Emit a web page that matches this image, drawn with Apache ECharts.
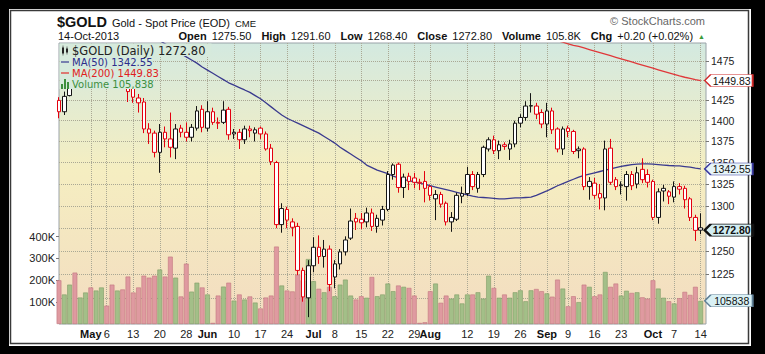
<!DOCTYPE html>
<html>
<head>
<meta charset="utf-8">
<title>$GOLD - Gold Spot Price (EOD)</title>
<script src="https://cdn.jsdelivr.net/npm/echarts@6.0.0/dist/echarts.min.js"></script>
<style>
html,body{margin:0;padding:0;background:#000;overflow:hidden;}
#chart{width:765px;height:354px;}
</style>
</head>
<body>
<div id="chart"></div>
<script>
// ---------------- DATA ----------------
const dates = [
'2013-04-23','2013-04-24','2013-04-25','2013-04-26','2013-04-29','2013-04-30','2013-05-01','2013-05-02','2013-05-03','2013-05-06',
'2013-05-07','2013-05-08','2013-05-09','2013-05-10','2013-05-13','2013-05-14','2013-05-15','2013-05-16','2013-05-17','2013-05-20',
'2013-05-21','2013-05-22','2013-05-23','2013-05-24','2013-05-28','2013-05-29','2013-05-30','2013-05-31','2013-06-03','2013-06-04',
'2013-06-05','2013-06-06','2013-06-07','2013-06-10','2013-06-11','2013-06-12','2013-06-13','2013-06-14','2013-06-17','2013-06-18',
'2013-06-19','2013-06-20','2013-06-21','2013-06-24','2013-06-25','2013-06-26','2013-06-27','2013-06-28','2013-07-01','2013-07-02',
'2013-07-03','2013-07-05','2013-07-08','2013-07-09','2013-07-10','2013-07-11','2013-07-12','2013-07-15','2013-07-16','2013-07-17',
'2013-07-18','2013-07-19','2013-07-22','2013-07-23','2013-07-24','2013-07-25','2013-07-26','2013-07-29','2013-07-30','2013-07-31',
'2013-08-01','2013-08-02','2013-08-05','2013-08-06','2013-08-07','2013-08-08','2013-08-09','2013-08-12','2013-08-13','2013-08-14',
'2013-08-15','2013-08-16','2013-08-19','2013-08-20','2013-08-21','2013-08-22','2013-08-23','2013-08-26','2013-08-27','2013-08-28',
'2013-08-29','2013-08-30','2013-09-03','2013-09-04','2013-09-05','2013-09-06','2013-09-09','2013-09-10','2013-09-11','2013-09-12',
'2013-09-13','2013-09-16','2013-09-17','2013-09-18','2013-09-19','2013-09-20','2013-09-23','2013-09-24','2013-09-25','2013-09-26',
'2013-09-27','2013-09-30','2013-10-01','2013-10-02','2013-10-03','2013-10-04','2013-10-07','2013-10-08','2013-10-09','2013-10-10',
'2013-10-11','2013-10-14'
];
const opens = [
1425,1411,1431,1464,1462,1467,1472,1446,1467,1470,
1468,1451,1473,1468,1440,1428,1423,1390,1385,1362,
1386,1378,1367,1391,1386,1380,1391,1414,1391,1411,
1398,1398,1414,1384,1386,1377,1390,1385,1391,1384,
1367,1350,1279,1296,1282,1277,1229,1200,1234,1254,
1244,1252,1222,1236,1249,1264,1286,1285,1282,1292,
1277,1284,1296,1336,1348,1321,1334,1332,1327,1328,
1322,1308,1313,1303,1282,1285,1311,1314,1336,1320,
1336,1366,1377,1364,1371,1366,1372,1397,1404,1418,
1418,1410,1396,1412,1390,1366,1391,1387,1364,1366,
1322,1326,1314,1309,1367,1330,1323,1322,1336,1325,
1342,1336,1328,1287,1320,1316,1310,1322,1320,1308,
1287,1275.5
];
const highs = [
1429,1436,1470,1474,1476,1478,1476,1470,1487,1476,
1471,1476,1478,1470,1446,1433,1428,1397,1388,1396,
1393,1410,1396,1395,1398,1396,1418,1419,1424,1416,
1404,1424,1417,1390,1390,1394,1394,1392,1393,1387,
1372,1352,1303,1299,1286,1281,1232,1240,1265,1267,
1262,1256,1240,1252,1266,1297,1292,1292,1298,1297,
1290,1300,1340,1349,1350,1337,1338,1338,1331,1340,
1324,1318,1316,1305,1293,1315,1322,1345,1340,1339,
1370,1380,1382,1376,1374,1377,1400,1408,1424,1434,
1422,1414,1422,1416,1392,1393,1394,1389,1369,1368,
1333,1332,1325,1376,1378,1333,1328,1340,1340,1345,
1355,1342,1330,1320,1324,1318,1328,1326,1323,1310,
1290,1291.6
];
const lows = [
1403,1407,1430,1440,1452,1458,1442,1444,1457,1458,
1447,1450,1459,1423,1422,1410,1385,1372,1356,1338,
1368,1356,1354,1380,1375,1375,1388,1386,1387,1395,
1390,1396,1377,1378,1366,1372,1380,1375,1378,1364,
1347,1275,1270,1275,1266,1224,1196,1180,1227,1236,
1232,1207,1210,1230,1245,1262,1273,1274,1276,1272,
1270,1278,1294,1330,1315,1309,1318,1320,1318,1304,
1306,1284,1298,1278,1271,1283,1303,1311,1318,1315,
1333,1363,1360,1354,1365,1353,1368,1392,1400,1410,
1402,1391,1380,1384,1362,1359,1380,1360,1355,1318,
1307,1308,1296,1295,1324,1318,1313,1306,1318,1320,
1326,1321,1284,1280,1305,1302,1304,1313,1297,1283,
1261,1268.4
];
const closes = [
1411,1430,1464,1462,1467,1472,1446,1467,1470,1468,
1451,1473,1469,1436,1429,1422,1390,1385,1362,1386,
1378,1368,1390,1386,1380,1392,1412,1392,1411,1398,
1397,1413,1383,1386,1377,1390,1388,1389,1384,1366,
1351,1279,1297,1284,1276,1229,1201,1234,1254,1244,
1252,1214,1236,1249,1262,1283,1282,1281,1292,1277,
1286,1296,1336,1347,1321,1333,1328,1327,1326,1320,
1312,1313,1302,1282,1287,1312,1314,1336,1322,1336,
1368,1377,1364,1371,1369,1372,1397,1404,1418,1418.5,
1408,1396,1412,1389,1366,1390,1387,1363,1366,1322,
1328,1312,1309,1366,1327,1322,1324,1336,1323,1338,
1330,1327,1287,1316,1317,1311,1322,1319,1307,1287,
1272.6,1272.8
];
const volumes = [
200000,135000,180000,235000,121000,144000,167000,153000,167000,84000,
180000,153000,158000,217000,144000,167000,221000,212000,221000,249000,
217000,308000,212000,126000,276000,148000,189000,167000,135000,5000,
130000,171000,189000,107000,135000,112000,126000,98000,71000,121000,
130000,354000,176000,153000,149000,226000,200000,297000,196000,161000,
145000,170000,127000,180000,203000,130000,112000,127000,120000,215000,
127000,135000,185000,150000,176000,170000,165000,130000,5000,8000,
150000,185000,97000,130000,116000,135000,94000,135000,135000,145000,
116000,221000,165000,120000,135000,120000,145000,154000,104000,154000,
160000,150000,140000,125000,203000,162000,81000,127000,100000,180000,
170000,127000,135000,238000,170000,185000,130000,152000,142000,145000,
122000,116000,200000,162000,120000,104000,94000,118000,147000,133000,
170000,105838
];
const ma50 = [
null,null,null,null,null,null,null,null,null,null,
null,null,null,null,null,null,null,null,1505,1501,
1497,1493,1489,1484,1480,1476,1472,1467,1463,1459,
1455,1451,1447,1444,1441,1438,1435,1431,1427,1422,
1417,1412,1407,1403,1400,1397,1394,1391,1388,1385,
1381,1377,1373,1368,1364,1360,1356,1352,1347,1344,
1341,1339,1337,1334,1332,1330,1329,1327.5,1326,1324.5,
1323,1321.5,1320,1318.5,1317,1315.5,1314,1312.5,1311,1310,
1309.5,1309,1308.5,1308,1308,1308.5,1309,1309,1309.5,1310,
1312,1314.5,1317,1320,1323,1325.5,1328,1330.5,1333,1335,
1336.5,1338,1339.5,1341,1342.5,1344,1345.5,1346.5,1347.5,1348,
1348.5,1348.5,1348,1347.5,1347,1346.5,1346.2,1346,1345.3,1344.5,
1343.5,1342.55
];
const ma200 = [
null,null,null,null,null,null,null,null,null,null,
null,null,null,null,null,null,null,null,null,null,
null,null,null,null,null,null,null,null,null,null,
null,null,null,null,null,null,null,null,null,null,
null,null,null,null,null,null,null,null,null,null,
null,null,null,null,null,null,null,null,null,null,
null,null,null,null,null,null,null,null,null,null,
null,null,null,null,null,null,null,null,null,null,
null,null,null,null,null,null,null,null,null,null,
null,null,1505,1503,1501,1499,1497,1495,1493.5,1491.5,
1489.5,1487.5,1485.5,1483.5,1481.5,1479.5,1477.5,1475.5,1473.5,1471.5,
1469.5,1467.5,1465.5,1463.5,1461.5,1459.5,1457.5,1455.7,1454,1452.5,
1451,1449.83
];
const tickDates = ['2013-05-01','2013-05-06','2013-05-13','2013-05-20','2013-05-28','2013-06-03','2013-06-10','2013-06-17','2013-06-24',
  '2013-07-01','2013-07-08','2013-07-15','2013-07-22','2013-07-29','2013-08-01','2013-08-12','2013-08-19','2013-08-26',
  '2013-09-03','2013-09-09','2013-09-16','2013-09-23','2013-10-01','2013-10-07','2013-10-14'];
const tickLabels = ['May','6','13','20','28','Jun','10','17','24','Jul','8','15','22','29','Aug','12','19','26','Sep','9','16','23','Oct','7','14'];
const priceGridTicks = [1200,1225,1250,1275,1300,1325,1350,1375,1400,1425,1450,1475];
const priceLabelTicks = [1225,1250,1300,1325,1350,1375,1400,1425,1475];
const volumeTicks = [100000,200000,300000,400000];
const priceRange = [1173, 1498];
const volumeMax = 1285000;

// ---------------- BUILD ----------------
const FONT = '"Liberation Sans", Arial, Helvetica, sans-serif';
const LFONT = '"DejaVu Sans", Verdana, sans-serif';
const lg = Math.log;
const last = dates.length - 1;
const cats = dates.concat(['']);
const tickMap = {};
tickDates.forEach((d, i) => { tickMap[d] = tickLabels[i]; });
const isTick = (i, v) => Object.prototype.hasOwnProperty.call(tickMap, v);

const upDay = closes.map((c, i) => i === 0 ? c >= opens[i] : c >= closes[i - 1]);
const RED = '#e3000f', BLK = '#151515';
const candleData = dates.map((d, i) => {
  const hue = upDay[i] ? BLK : RED;
  return { value: [lg(opens[i]), lg(closes[i]), lg(lows[i]), lg(highs[i])],
    itemStyle: { color: '#ffffff', borderColor: hue, color0: hue, borderColor0: hue } };
});
const volData = volumes.map((v, i) => ({ value: v, itemStyle: {
  color: upDay[i] ? '#a3bf88' : '#df9aa0', borderColor: upDay[i] ? '#7f9c66' : '#c27780', borderWidth: 0.6 } }));
const lineData = arr => arr.map(v => v == null ? '-' : lg(v));

const lastClose = closes[last], prevClose = closes[last - 1];
const chg = lastClose - prevClose;
const sign = chg >= 0 ? '+' : '-';
const goldName = '$GOLD (Daily) ' + lastClose.toFixed(2);
const ma50Name = 'MA(50) ' + ma50[last].toFixed(2);
const ma200Name = 'MA(200) ' + ma200[last].toFixed(2);
const volName = 'Volume ' + volumes[last].toLocaleString('en-US');

function flag(k, y, text, stroke, fill, bold, lw) {
  return {
    silent: true,
    symbol: 'path://M0,6L6,0L48,0L48,12L6,12Z',
    symbolSize: [48, 12],
    symbolKeepAspect: false,
    symbolOffset: [28, 0],
    itemStyle: { color: fill, borderColor: stroke, borderWidth: lw },
    label: { show: true, position: 'inside', offset: [3, 0], formatter: text,
      color: '#111', fontSize: 10.5, fontWeight: bold ? 'bold' : 'normal', fontFamily: FONT },
    data: [{ coord: [k, y] }]
  };
}

const candleIcon = 'path://M0.7,0h0.6v10h-0.6z M0,2h2v6h-2z M4.7,1h0.6v8h-0.6z M4,3h2v4h-2z';
const lineIcon = 'path://M0,4.4h10v1.4h-10z';
const barIcon = 'path://M0,5h2v5h-2z M3,0h2v10h-2z M6,3h2v7h-2z';
const legBg = '#d6eadc';

const ohlc = '{k|Open} {v|' + opens[last].toFixed(2) + '}  {k|High} {v|' + highs[last].toFixed(2) +
  '}  {k|Low} {v|' + lows[last].toFixed(2) + '}  {k|Close} {v|' + lastClose.toFixed(2) +
  '}  {k|Volume} {v|' + (volumes[last] / 1000).toFixed(1) + 'K}  {k|Chg} {v|' + sign + Math.abs(chg).toFixed(2) +
  ' (' + sign + Math.abs(chg / prevClose * 100).toFixed(2) + '%)} {t|▲}';

const option = {
  animation: false,
  backgroundColor: '#000000',
  textStyle: { fontFamily: FONT },
  graphic: [
    { type: 'rect', z: -20, silent: true, shape: { x: 9, y: 9, width: 742, height: 337 }, style: { fill: '#ffffff' } },
    { type: 'rect', z: -19, silent: true, shape: { x: 10.5, y: 10.5, width: 738, height: 333 }, style: { fill: 'none', stroke: '#3a3a3a', lineWidth: 1.5 } },
    { type: 'rect', z: 3, silent: true, shape: { x: 59.5, y: 43.5, width: 152, height: 12.5 }, style: { fill: legBg } },
    { type: 'rect', z: 3, silent: true, shape: { x: 59.5, y: 56, width: 93, height: 33 }, style: { fill: legBg } }
  ],
  title: [
    { left: 57, top: 11, padding: 0, text: '{a|$GOLD} {b|Gold - Spot Price (EOD)} {c|CME}',
      textStyle: { fontWeight: 'normal', rich: {
        a: { fontFamily: FONT, fontSize: 14.5, fontWeight: 'bold', color: '#111', verticalAlign: 'bottom' },
        b: { fontFamily: FONT, fontSize: 11, fontWeight: 'normal', color: '#111', verticalAlign: 'bottom', padding: [0, 0, 1, 0] },
        c: { fontFamily: FONT, fontSize: 9.5, fontWeight: 'normal', color: '#111', verticalAlign: 'bottom', padding: [0, 0, 1, 0] } } } },
    { left: 58, top: 30, padding: 0, text: '14-Oct-2013',
      textStyle: { fontFamily: FONT, fontSize: 11, fontWeight: 'normal', color: '#111', lineHeight: 12 } },
    { right: 60, top: 30, padding: 0, text: ohlc,
      textStyle: { fontWeight: 'normal', lineHeight: 12, rich: {
        k: { fontFamily: FONT, fontSize: 11, fontWeight: 'bold', color: '#111', lineHeight: 12 },
        v: { fontFamily: FONT, fontSize: 11, fontWeight: 'normal', color: '#111', lineHeight: 12 },
        t: { fontFamily: FONT, fontSize: 7, fontWeight: 'normal', color: '#3a9a3a', lineHeight: 12 } } } },
    { right: 60, top: 15, padding: 0, text: '© StockCharts.com',
      textStyle: { fontFamily: FONT, fontSize: 11, fontWeight: 'normal', color: '#666' } }
  ],
  legend: {
    orient: 'vertical', left: 61, top: 44.5, padding: 0, itemGap: 0, itemWidth: 8, itemHeight: 10,
    selectedMode: false, symbolKeepAspect: true,
    textStyle: { fontFamily: LFONT, fontSize: 10, lineHeight: 11, padding: [0, 0, 0, -2] },
    data: [
      { name: goldName, icon: candleIcon, itemStyle: { color: '#222', borderWidth: 0 }, textStyle: { color: '#222', fontSize: 11.5, lineHeight: 12 } },
      { name: ma50Name, icon: lineIcon, itemStyle: { color: '#2c2c8c', borderWidth: 0 }, textStyle: { color: '#2c2c8c' } },
      { name: ma200Name, icon: lineIcon, itemStyle: { color: '#e02020', borderWidth: 0 }, textStyle: { color: '#e02020' } },
      { name: volName, icon: barIcon, itemStyle: { color: '#3d8f3d', borderWidth: 0 }, textStyle: { color: '#3d8f3d' } }
    ]
  },
  grid: {
    left: 59, top: 43, width: 647, height: 281, show: true, borderColor: '#9aa3a8', borderWidth: 1,
    outerBoundsMode: 'none',
    backgroundColor: { type: 'linear', x: 0, y: 0, x2: 0, y2: 1, colorStops: [
      { offset: 0, color: '#d3e9e0' }, { offset: 0.45, color: '#f5eec1' }, { offset: 1, color: '#f3dcc0' } ] }
  },
  xAxis: {
    type: 'category', data: cats, boundaryGap: false,
    axisLine: { show: false }, axisTick: { show: false },
    axisLabel: { interval: isTick, hideOverlap: false, margin: 4, fontFamily: FONT, fontSize: 11, color: '#222',
      formatter: v => { const t = tickMap[v]; if (!t) return ''; return /[A-Za-z]/.test(t) ? '{m|' + t + '}' : t; },
      rich: { m: { fontFamily: FONT, fontSize: 11, fontWeight: 'bold', color: '#111' } } },
    splitLine: { show: true, interval: isTick, lineStyle: { type: 'dotted', color: '#aaa894', width: 1 } }
  },
  yAxis: [
    { type: 'value', position: 'right', min: lg(priceRange[0]), max: lg(priceRange[1]),
      axisLine: { show: false },
      axisTick: { show: true, length: 3, customValues: priceGridTicks.map(lg), lineStyle: { color: '#777' } },
      axisLabel: { customValues: priceLabelTicks.map(lg), formatter: v => String(Math.round(Math.exp(v))),
        margin: 5, fontFamily: FONT, fontSize: 10.5, color: '#222' },
      splitLine: { show: true, lineStyle: { type: 'dotted', color: '#aaa894', width: 1 } } },
    { type: 'value', position: 'left', min: 0, max: volumeMax,
      axisLine: { show: false },
      axisTick: { show: true, length: 3, customValues: volumeTicks, lineStyle: { color: '#777' } },
      axisLabel: { customValues: volumeTicks, formatter: v => (v / 1000) + 'K', margin: 4,
        fontFamily: FONT, fontSize: 11, color: '#222' },
      splitLine: { show: false } }
  ],
  series: [
    { name: volName, type: 'bar', xAxisIndex: 0, yAxisIndex: 1, z: 1, barWidth: '90%', data: volData,
      itemStyle: { color: '#a3bf88' },
      markPoint: flag(last, volumes[last], String(volumes[last]), '#5f7f96', '#d9f1f5', false, 1) },
    { name: goldName, type: 'candlestick', xAxisIndex: 0, yAxisIndex: 0, z: 2, barWidth: 4, data: candleData,
      itemStyle: { color: '#ffffff', color0: RED, borderColor: BLK, borderColor0: RED, borderWidth: 1 },
      markPoint: flag(last, lg(lastClose), lastClose.toFixed(2), '#111', '#d2eef3', true, 1.6) },
    { name: ma50Name, type: 'line', xAxisIndex: 0, yAxisIndex: 0, z: 2, symbol: 'none', data: lineData(ma50),
      itemStyle: { color: '#2c2c8c' }, lineStyle: { color: '#3a3a8e', width: 1.3 },
      markPoint: flag(last, lg(ma50[last]), ma50[last].toFixed(2), '#3a3aa0', '#e6f4f8', false, 1) },
    { name: ma200Name, type: 'line', xAxisIndex: 0, yAxisIndex: 0, z: 2, symbol: 'none', data: lineData(ma200),
      itemStyle: { color: '#e02020' }, lineStyle: { color: '#e0383a', width: 1.3 },
      markPoint: flag(last, lg(ma200[last]), ma200[last].toFixed(2), '#d02828', '#ffffff', false, 1) }
  ]
};

const chart = echarts.init(document.getElementById('chart'), null, { renderer: 'svg', width: 765, height: 354 });
chart.setOption(option);
</script>
</body>
</html>
